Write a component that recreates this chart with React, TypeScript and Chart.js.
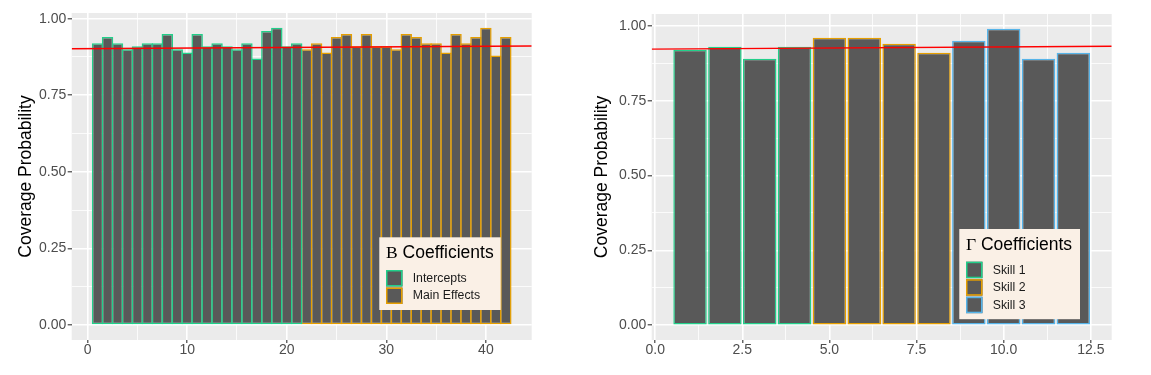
import React, { useEffect, useRef } from 'react';
import { Chart, registerables } from 'chart.js';

Chart.register(...registerables);

// ---------- data ----------
const interceptCoverage = [0.92, 0.94, 0.92, 0.90, 0.91, 0.92, 0.92, 0.95, 0.90, 0.89, 0.95, 0.91, 0.92, 0.91, 0.90, 0.92, 0.87, 0.96, 0.97, 0.91, 0.92];
const mainEffectCoverage = [0.90, 0.92, 0.89, 0.94, 0.95, 0.91, 0.95, 0.91, 0.91, 0.90, 0.95, 0.94, 0.92, 0.92, 0.89, 0.95, 0.92, 0.94, 0.97, 0.88, 0.94];
const skill1Coverage = [0.92, 0.93, 0.89, 0.93];
const skill2Coverage = [0.96, 0.96, 0.94, 0.91];
const skill3Coverage = [0.95, 0.99, 0.89, 0.91];

const leftXMajorTicks = [0, 10, 20, 30, 40];
const leftXMinorTicks = [5, 15, 25, 35];
const rightXMajorTicks = [0, 2.5, 5, 7.5, 10, 12.5];
const rightXMinorTicks = [1.25, 3.75, 6.25, 8.75, 11.25];
const yMajorTicks = [0, 0.25, 0.5, 0.75, 1];
const yMinorTicks = [0.125, 0.375, 0.625, 0.875];

const leftXLimits = [-1.6, 44.6];
const leftYLimits = [-0.0485, 1.0185];
const rightXLimits = [-0.1, 13.1];
const rightYLimits = [-0.0495, 1.0395];

const leftRefLine = [0.902, 0.911];
const rightRefLine = [0.922, 0.932];

const leftGroups = ['Intercepts', 'Main Effects'];
const rightGroups = ['Skill 1', 'Skill 2', 'Skill 3'];

// ---------- styles ----------
const SANS = '"Liberation Sans", Arial, Helvetica, sans-serif';
const SERIF = '"Liberation Serif", "DejaVu Serif", "Times New Roman", serif';
const GREEN = '#22CF8A';
const ORANGE = '#E69F00';
const BLUE = '#56B4E9';
const BAR_FILL = '#595959';

const panelBgPlugin = {
  id: 'panelBg',
  beforeDraw(chart: any) {
    const { ctx, chartArea } = chart;
    ctx.save();
    ctx.fillStyle = '#EBEBEB';
    ctx.fillRect(chartArea.left, chartArea.top, chartArea.right - chartArea.left, chartArea.bottom - chartArea.top);
    ctx.restore();
  },
};

const ggLegendPlugin = {
  id: 'ggLegend',
  afterDraw(chart: any, _args: any, opts: any) {
    if (!opts || !opts.box) return;
    const ctx = chart.ctx;
    const items = chart.data.datasets.filter((d: any) => d.type !== 'line');
    const { x, y, w } = opts.box;
    const stride = 17.5;
    const h = 32.7 + items.length * stride + 5;
    ctx.save();
    ctx.fillStyle = '#FAF0E6';
    ctx.fillRect(x, y, w, h);
    ctx.textAlign = 'left';
    ctx.textBaseline = 'middle';
    ctx.fillStyle = '#000000';
    ctx.font = `17.5px ${SERIF}`;
    ctx.fillText(opts.symbol, x + 6.7, y + 16);
    const sw = ctx.measureText(opts.symbol).width;
    ctx.font = `17.5px ${SANS}`;
    ctx.fillText(opts.title, x + 6.7 + sw, y + 16);
    items.forEach((d: any, i: number) => {
      const ky = y + 32.7 + i * stride;
      ctx.fillStyle = BAR_FILL;
      ctx.fillRect(x + 6.7, ky, 16.5, 16.5);
      ctx.strokeStyle = d.borderColor;
      ctx.lineWidth = 1.5;
      ctx.strokeRect(x + 7.45, ky + 0.75, 15, 15);
      ctx.fillStyle = '#1A1A1A';
      ctx.font = `12.3px ${SANS}`;
      ctx.fillText(d.label, x + 33.4, ky + 8.6);
    });
    ctx.restore();
  },
};

function makeScales(opts: {
  xLimits: number[]; yLimits: number[];
  xMajor: number[]; xMinor: number[];
  xLabel: (v: number) => string;
  yAxisWidth: number; titleOffset: number;
}) {
  const isIn = (arr: number[], v: number) => arr.some((a) => Math.abs(a - v) < 1e-9);
  return {
    x: {
      type: 'linear',
      min: opts.xLimits[0],
      max: opts.xLimits[1],
      offset: false,
      border: { display: false },
      grid: {
        offset: false,
        color: '#FFFFFF',
        lineWidth: (c: any) => (c.tick && isIn(opts.xMajor, c.tick.value) ? 1.6 : 0.8),
        tickColor: (c: any) => (c.tick && isIn(opts.xMajor, c.tick.value) ? '#333333' : 'rgba(0,0,0,0)'),
        tickWidth: 1.1,
        tickLength: 3,
        drawTicks: true,
      },
      ticks: {
        autoSkip: false,
        maxRotation: 0,
        minRotation: 0,
        padding: 0,
        color: '#4D4D4D',
        font: { family: SANS, size: 14, lineHeight: 1 },
        callback: (v: any) => (isIn(opts.xMajor, Number(v)) ? opts.xLabel(Number(v)) : ''),
      },
      afterBuildTicks: (scale: any) => {
        scale.ticks = [...opts.xMajor, ...opts.xMinor].sort((a, b) => a - b).map((v) => ({ value: v }));
      },
      afterFit: (scale: any) => {
        scale.height = 35;
      },
    },
    y: {
      type: 'linear',
      min: opts.yLimits[0],
      max: opts.yLimits[1],
      border: { display: false },
      grid: {
        color: '#FFFFFF',
        lineWidth: (c: any) => (c.tick && isIn(yMajorTicks, c.tick.value) ? 1.6 : 0.8),
        tickColor: (c: any) => (c.tick && isIn(yMajorTicks, c.tick.value) ? '#333333' : 'rgba(0,0,0,0)'),
        tickWidth: 1.1,
        tickLength: 4,
        drawTicks: true,
      },
      ticks: {
        autoSkip: false,
        padding: 1.5,
        color: '#4D4D4D',
        font: { family: SANS, size: 14, lineHeight: 1 },
        callback: (v: any) => (isIn(yMajorTicks, Number(v)) ? Number(v).toFixed(2) : ''),
      },
      title: {
        display: true,
        text: 'Coverage Probability',
        color: '#000000',
        font: { family: SANS, size: 17.5, lineHeight: 1.2 },
        padding: { top: opts.titleOffset - 10.5, bottom: 0 },
      },
      afterBuildTicks: (scale: any) => {
        scale.ticks = [...yMajorTicks, ...yMinorTicks].sort((a, b) => a - b).map((v) => ({ value: v }));
      },
      afterFit: (scale: any) => {
        scale.width = opts.yAxisWidth;
      },
    },
  };
}

function barDataset(label: string, values: number[], startX: number, color: string, barPct: number) {
  return {
    type: 'bar',
    label,
    data: values.map((v, i) => ({ x: startX + i, y: v })),
    backgroundColor: BAR_FILL,
    borderColor: color,
    borderWidth: 1.5,
    borderSkipped: false,
    barPercentage: barPct,
    categoryPercentage: 1,
    grouped: false,
    order: 0,
  };
}

function refLineDataset(xLimits: number[], vals: number[]) {
  return {
    type: 'line',
    label: 'reference',
    data: [
      { x: xLimits[0], y: vals[0] },
      { x: xLimits[1], y: vals[1] },
    ],
    borderColor: '#FF0000',
    borderWidth: 1.4,
    pointRadius: 0,
    fill: false,
    order: -1,
  };
}

function ChartCanvas({ left, width, config }: { left: number; width: number; config: any }) {
  const ref = useRef<HTMLCanvasElement>(null);
  useEffect(() => {
    const chart = new Chart(ref.current as HTMLCanvasElement, config);
    return () => chart.destroy();
  }, []);
  return (
    <canvas
      ref={ref}
      width={width}
      height={375}
      style={{ position: 'absolute', left, top: 0, width, height: 375, display: 'block' }}
    />
  );
}

const leftConfig = {
  type: 'bar',
  data: {
    datasets: [
      refLineDataset(leftXLimits, leftRefLine),
      barDataset(leftGroups[0], interceptCoverage, 1, GREEN, 1.15),
      barDataset(leftGroups[1], mainEffectCoverage, interceptCoverage.length + 1, ORANGE, 1.15),
    ],
  },
  options: {
    responsive: false,
    animation: false,
    events: [],
    layout: { padding: { left: 0, right: 44.3, top: 13, bottom: 0 } },
    scales: makeScales({
      xLimits: leftXLimits,
      yLimits: leftYLimits,
      xMajor: leftXMajorTicks,
      xMinor: leftXMinorTicks,
      xLabel: (v) => String(v),
      yAxisWidth: 71.7,
      titleOffset: 26.3,
    }),
    plugins: {
      legend: { display: false },
      tooltip: { enabled: false },
      ggLegend: { box: { x: 379.3, y: 237.3, w: 121.4 }, symbol: 'Β', title: ' Coefficients' },
    },
  },
  plugins: [panelBgPlugin, ggLegendPlugin],
};

const rightConfig = {
  type: 'bar',
  data: {
    datasets: [
      refLineDataset(rightXLimits, rightRefLine),
      barDataset(rightGroups[0], skill1Coverage, 1, GREEN, 0.96),
      barDataset(rightGroups[1], skill2Coverage, skill1Coverage.length + 1, ORANGE, 0.96),
      barDataset(rightGroups[2], skill3Coverage, skill1Coverage.length + skill2Coverage.length + 1, BLUE, 0.96),
    ],
  },
  options: {
    responsive: false,
    animation: false,
    events: [],
    layout: { padding: { left: 0, right: 39.3, top: 14, bottom: 0 } },
    scales: makeScales({
      xLimits: rightXLimits,
      yLimits: rightYLimits,
      xMajor: rightXMajorTicks,
      xMinor: rightXMinorTicks,
      xLabel: (v) => v.toFixed(1),
      yAxisWidth: 75.7,
      titleOffset: 25.7,
    }),
    plugins: {
      legend: { display: false },
      tooltip: { enabled: false },
      ggLegend: { box: { x: 383.3, y: 229, w: 120.7 }, symbol: 'Γ', title: ' Coefficients' },
    },
  },
  plugins: [panelBgPlugin, ggLegendPlugin],
};

export default function App() {
  return (
    <div style={{ position: 'fixed', left: 0, top: 0, width: 1151, height: 375, background: '#FFFFFF', overflow: 'hidden' }}>
      <ChartCanvas left={0} width={576} config={leftConfig} />
      <ChartCanvas left={576} width={575} config={rightConfig} />
    </div>
  );
}
